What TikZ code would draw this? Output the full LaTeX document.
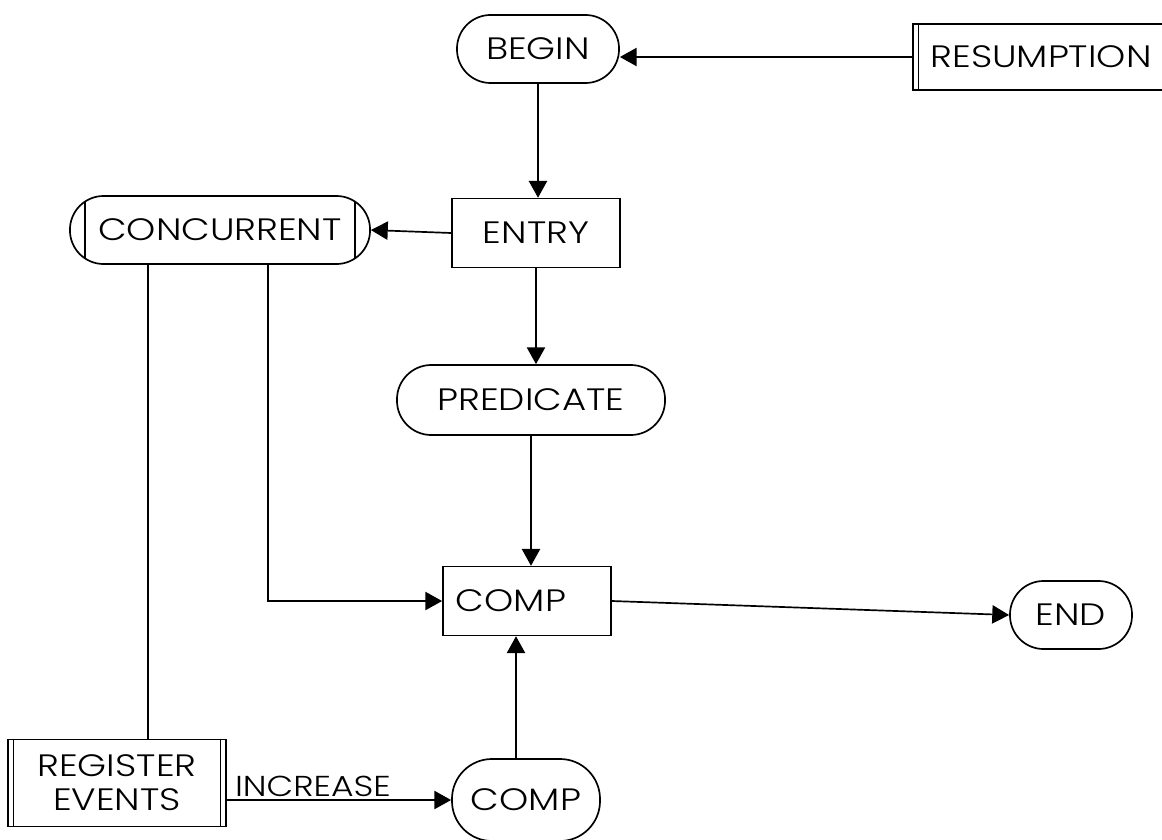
\documentclass[tikz,border=0pt]{standalone}
\usepackage{fontspec}
\setmainfont{Poppins}[UprightFont={* Light}, FakeStretch=1.2]
\usetikzlibrary{arrows.meta}

\tikzset{
	term/.style={draw, line width=1.2pt, rounded corners=0.84cm, inner sep=0pt, minimum height=1.7cm},
	proc/.style={draw, line width=1.2pt, inner sep=0pt, minimum height=1.72cm},
	flow/.style={line width=1.2pt, -{Triangle[length=12pt,width=13pt]}},
	tag/.style={font=\fontsize{20.5}{24}\selectfont, inner sep=2pt}
}

\begin{document}
\begin{tikzpicture}[x=0.025cm, y=-0.025cm, every node/.append style={font=\fontsize{22}{26}\selectfont}]
	\useasboundingbox (0,0) rectangle (1162,840);

	\node[term, minimum width=4.05cm] (begin) at (538,49) {BEGIN};
	\node[proc, minimum width=6.3cm, minimum height=1.65cm] (resume) at (1039,57) {\hspace*{0.1cm}RESUMPTION};
	\node[proc, minimum width=4.2cm] (entry) at (536,233) {ENTRY};
	\node[term, minimum width=7.5cm] (concur) at (220,230) {CONCURRENT};
	\node[term, minimum width=6.7cm, minimum height=1.75cm, rounded corners=0.86cm] (pred) at (531,400) {PREDICATE};
	\node[proc, minimum width=4.2cm] (comp) at (527,601) {\hspace*{-0.8cm}COMP};
	\node[term, minimum width=3.05cm] (end) at (1071,615) {END};
	\node[proc, minimum width=5.45cm, minimum height=2.18cm, align=center] (reg) at (117,783) {REGISTER\\[-2pt]EVENTS};
	\node[term, minimum width=3.7cm, minimum height=2.05cm, rounded corners=1.0cm] (comp2) at (526,800) {COMP};

	% side bars
	\draw[line width=1.2pt] ([xshift=0.16cm]resume.north west) -- ([xshift=0.16cm]resume.south west);
	\draw[line width=1.2pt] ([xshift=0.16cm]reg.north west) -- ([xshift=0.16cm]reg.south west)
		([xshift=-0.16cm]reg.north east) -- ([xshift=-0.16cm]reg.south east);
	\draw[line width=1.2pt] ([xshift=0.4cm,yshift=0.73cm]concur.west) -- ([xshift=0.4cm,yshift=-0.73cm]concur.west)
		([xshift=-0.4cm,yshift=0.73cm]concur.east) -- ([xshift=-0.4cm,yshift=-0.73cm]concur.east);

	\draw[flow] (resume.west) -- (begin.east |- resume.west);
	\draw[flow] (begin.south) -- (begin.south |- entry.north);
	\draw[flow] (entry.west) -- (concur.east);
	\draw[flow] (entry.south) -- (entry.south |- pred.north);
	\draw[flow] (pred.south) -- (pred.south |- comp.north);
	\draw[flow] (comp.east) -- (end.west);

	\coordinate (c1) at ([xshift=1.2cm]concur.south);
	\coordinate (c2) at ([xshift=-1.8cm]concur.south);
	\draw[flow] (c1) |- (comp.west);
	\draw[line width=1.2pt] (c2) -- (c2 |- reg.north);

	\draw[flow] (reg.east |- comp2.west) -- (comp2.west)
		node[tag, pos=0.02, anchor=south west] {INCREASE};
	\draw[flow] ([xshift=-0.25cm]comp2.north) -- ([xshift=-0.25cm]comp2.north |- comp.south);
\end{tikzpicture}
\end{document}
